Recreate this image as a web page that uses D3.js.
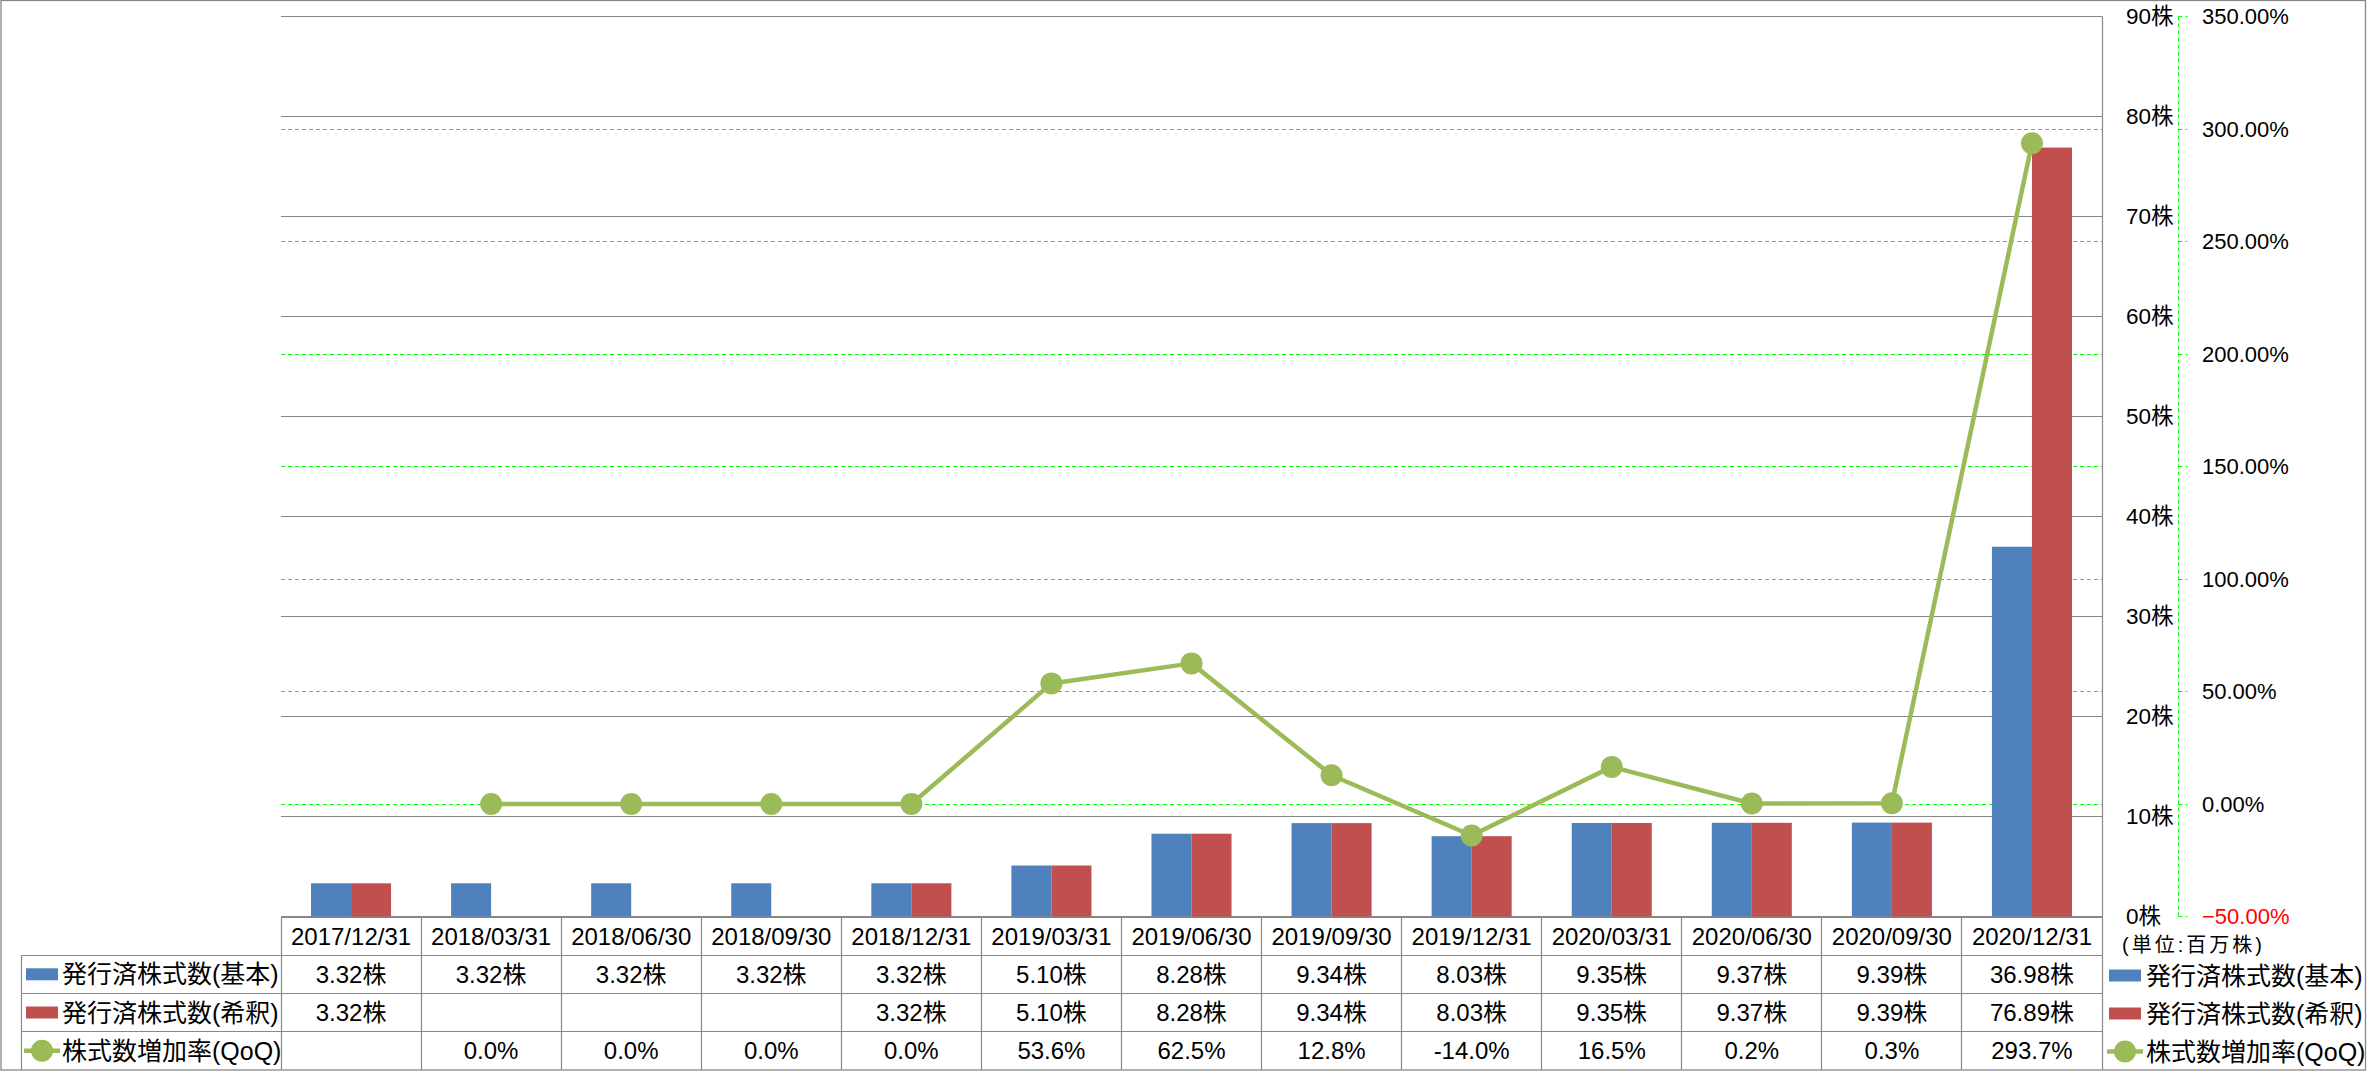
<!DOCTYPE html>
<html><head><meta charset="utf-8">
<script src="https://cdn.jsdelivr.net/npm/d3@7"></script>
<style>
html,body{margin:0;padding:0;background:#fff;}
svg text{font-family:"Liberation Sans","Noto Sans CJK JP",sans-serif;fill:#000;}
</style></head>
<body>
<svg id="chart" width="2367" height="1071"></svg>
<script>
const categories = ["2017/12/31","2018/03/31","2018/06/30","2018/09/30","2018/12/31","2019/03/31","2019/06/30","2019/09/30","2019/12/31","2020/03/31","2020/06/30","2020/09/30","2020/12/31"];
const basicShares = [3.32,3.32,3.32,3.32,3.32,5.10,8.28,9.34,8.03,9.35,9.37,9.39,36.98];
const dilutedShares = [3.32,null,null,null,3.32,5.10,8.28,9.34,8.03,9.35,9.37,9.39,76.89];
const qoqGrowth = [null,0.0,0.0,0.0,0.0,53.6,62.5,12.8,-14.0,16.5,0.2,0.3,293.7];
const seriesNames = ["発行済株式数(基本)","発行済株式数(希釈)","株式数増加率(QoQ)"];
const leftTicks = [0,10,20,30,40,50,60,70,80,90];
const rightTicks = [-50,0,50,100,150,200,250,300,350];
const unitLabel = "(単位:百万株)";

const C_BLUE="#4F81BD", C_RED="#C0504D", C_GREEN="#9BBB59", C_GRID="#878787", C_DASH="#00FF00";

const svg = d3.select("#chart");
const plotL = 281, plotR = 2102, plotT = 16.5, plotB = 916.5;
const rowH = 38.2;
const crisp = v => Math.floor(v)+0.5;

const x = d3.scaleBand().domain(categories).range([plotL, plotR]).paddingInner(0).paddingOuter(0);
const yL = d3.scaleLinear().domain([0,90]).range([plotB, plotT]);
const yR = d3.scaleLinear().domain([-50,350]).range([plotB, plotT]);

// outer border
svg.append("rect").attr("x",1).attr("y",0.5).attr("width",2364.5).attr("height",1069.5)
  .attr("fill","none").attr("stroke",C_GRID).attr("stroke-width",1.3);

// secondary dashed gridlines
svg.append("g").selectAll("line").data(rightTicks).join("line")
  .attr("x1",plotL).attr("x2",plotR)
  .attr("y1",d=>crisp(yR(d))).attr("y2",d=>crisp(yR(d)))
  .attr("stroke",C_DASH).attr("stroke-width",1).attr("stroke-dasharray","4,3");

// primary gridlines
svg.append("g").selectAll("line").data(leftTicks).join("line")
  .attr("x1",plotL).attr("x2",plotR)
  .attr("y1",d=>crisp(yL(d))).attr("y2",d=>crisp(yL(d)))
  .attr("stroke",C_GRID).attr("stroke-width",1.2);

// plot right border line (extends through table)
svg.append("line").attr("x1",plotR+0.5).attr("x2",plotR+0.5).attr("y1",plotT).attr("y2",1070)
  .attr("stroke",C_GRID).attr("stroke-width",1.2);

// bars
const bw = x.bandwidth()/3.5;
const barG = svg.append("g");
barG.selectAll("rect.b").data(categories).join("rect")
  .attr("x",(c)=>x(c)+ (x.bandwidth()-2*bw)/2)
  .attr("width",bw)
  .attr("y",(c,i)=>yL(basicShares[i]))
  .attr("height",(c,i)=>yL(0)-yL(basicShares[i]))
  .attr("fill",C_BLUE);
barG.selectAll("rect.d").data(categories.filter((c,i)=>dilutedShares[i]!=null)).join("rect")
  .attr("x",(c)=>x(c)+ (x.bandwidth()-2*bw)/2 + bw)
  .attr("width",bw)
  .attr("y",(c)=>yL(dilutedShares[categories.indexOf(c)]))
  .attr("height",(c)=>yL(0)-yL(dilutedShares[categories.indexOf(c)]))
  .attr("fill",C_RED);

// line
const cx = c => x(c)+x.bandwidth()/2;
const lineData = categories.map((c,i)=>({c, v:qoqGrowth[i]}));
svg.append("path").datum(lineData)
  .attr("d", d3.line().defined(d=>d.v!=null).x(d=>cx(d.c)).y(d=>yR(d.v)))
  .attr("fill","none").attr("stroke",C_GREEN).attr("stroke-width",4.5).attr("stroke-linejoin","round");
svg.append("g").selectAll("circle").data(lineData.filter(d=>d.v!=null)).join("circle")
  .attr("cx",d=>cx(d.c)).attr("cy",d=>yR(d.v)).attr("r",11).attr("fill",C_GREEN);

// right axis (secondary) dashed line and ticks
const axX = 2178.5;
svg.append("line").attr("x1",axX).attr("x2",axX).attr("y1",plotT).attr("y2",plotB)
  .attr("stroke",C_DASH).attr("stroke-width",1).attr("stroke-dasharray","4,3");
svg.append("g").selectAll("line").data(rightTicks).join("line")
  .attr("x1",axX).attr("x2",axX+9).attr("y1",d=>crisp(yR(d))).attr("y2",d=>crisp(yR(d)))
  .attr("stroke",C_DASH).attr("stroke-width",1).attr("stroke-dasharray","4,3");

// primary labels
svg.append("g").selectAll("text").data(leftTicks).join("text")
  .attr("x",2126).attr("y",d=>yL(d)).attr("dominant-baseline","central")
  .attr("font-size",22.5).text(d=>d+"株");
// secondary labels
svg.append("g").selectAll("text").data(rightTicks).join("text")
  .attr("x",2202).attr("y",d=>yR(d)).attr("dominant-baseline","central")
  .attr("font-size",22).style("fill",d=>d<0?"#FF0000":"#000")
  .text(d=>d3.format(".2f")(d)+"%");

// data table
const tT = 917, tL = 21.5;
const rowY = i => tT + rowH*i;
const tbl = svg.append("g");
tbl.append("line").attr("x1",plotL).attr("x2",plotR).attr("y1",tT+0.5).attr("y2",tT+0.5).attr("stroke",C_GRID).attr("stroke-width",1.2);
[1,2,3].forEach(i=>{
  tbl.append("line").attr("x1",tL).attr("x2",plotR).attr("y1",crisp(rowY(i))).attr("y2",crisp(rowY(i)))
    .attr("stroke",C_GRID).attr("stroke-width",1.2);
});
tbl.append("line").attr("x1",tL).attr("x2",tL).attr("y1",rowY(1)).attr("y2",1070).attr("stroke",C_GRID).attr("stroke-width",1.2);
tbl.selectAll("line.v").data(categories).join("line")
  .attr("x1",c=>crisp(x(c))).attr("x2",c=>crisp(x(c)))
  .attr("y1",tT).attr("y2",1070).attr("stroke",C_GRID).attr("stroke-width",1.2);

tbl.selectAll("text.cat").data(categories).join("text")
  .attr("x",cx).attr("y",rowY(0.5)).attr("text-anchor","middle").attr("dominant-baseline","central")
  .attr("font-size",24).text(d=>d);
const fmtS = v => v==null ? "" : v.toFixed(2)+"株";
const fmtP = v => v==null ? "" : v.toFixed(1)+"%";
tbl.selectAll("text.r1").data(categories).join("text")
  .attr("x",cx).attr("y",rowY(1.5)).attr("text-anchor","middle").attr("dominant-baseline","central")
  .attr("font-size",24).text((c,i)=>fmtS(basicShares[i]));
tbl.selectAll("text.r2").data(categories).join("text")
  .attr("x",cx).attr("y",rowY(2.5)).attr("text-anchor","middle").attr("dominant-baseline","central")
  .attr("font-size",24).text((c,i)=>fmtS(dilutedShares[i]));
tbl.selectAll("text.r3").data(categories).join("text")
  .attr("x",cx).attr("y",rowY(3.5)).attr("text-anchor","middle").attr("dominant-baseline","central")
  .attr("font-size",24).text((c,i)=>fmtP(qoqGrowth[i]));

function legendKey(g, kind, x0, yc){
  if(kind===2){
    g.append("line").attr("x1",x0-2).attr("x2",x0+34).attr("y1",yc).attr("y2",yc).attr("stroke",C_GREEN).attr("stroke-width",4.5);
    g.append("circle").attr("cx",x0+16).attr("cy",yc).attr("r",11).attr("fill",C_GREEN);
  } else {
    g.append("rect").attr("x",x0).attr("y",yc-6).attr("width",32).attr("height",12).attr("fill",kind===0?C_BLUE:C_RED);
  }
}
seriesNames.forEach((n,i)=>{
  const yc = rowY(i+1.5);
  legendKey(tbl, i, 26, yc);
  tbl.append("text").attr("x",62).attr("y",yc).attr("dominant-baseline","central").attr("font-size",25).text(n);
});

const lg = svg.append("g");
lg.append("text").attr("x",2122).attr("y",945).attr("dominant-baseline","central").attr("font-size",20)
  .attr("letter-spacing",3).text(unitLabel);
const lgY = [975.5, 1013.5, 1051.5];
seriesNames.forEach((n,i)=>{
  legendKey(lg, i, 2109, lgY[i]);
  lg.append("text").attr("x",2146).attr("y",lgY[i]).attr("dominant-baseline","central").attr("font-size",25).text(n);
});
</script>
</body></html>
